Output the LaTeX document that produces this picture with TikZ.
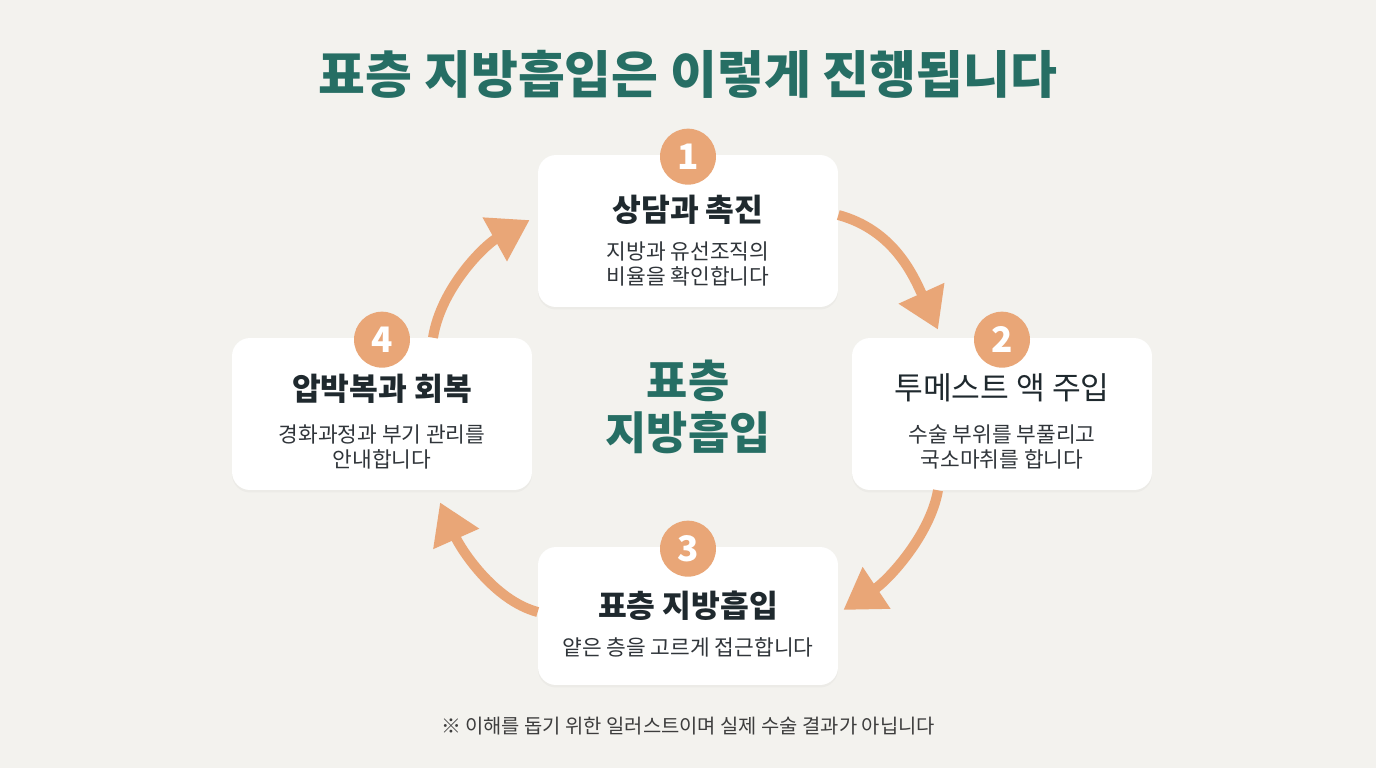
\documentclass[tikz,border=0pt]{standalone}
\usepackage{fontspec}
\setmainfont{Noto Sans CJK KR}
\usetikzlibrary{arrows.meta,positioning,calc,shadows}

\definecolor{bgcream}{HTML}{F3F2EE}
\definecolor{tealtxt}{HTML}{266E64}
\definecolor{peach}{HTML}{E9A677}
\definecolor{inkdark}{HTML}{1F292E}
\definecolor{inkgray}{HTML}{30353A}
\definecolor{notegray}{HTML}{3D3D3D}

\tikzset{
  stepcard/.style={fill=white, rounded corners=0.36cm, minimum width=6cm,
    minimum height=3.04cm, drop shadow={opacity=0.06, shadow xshift=0cm, shadow yshift=-0.05cm}},
  numdot/.style={circle, fill=peach, text=white, minimum size=1.12cm, inner sep=0pt,
    font=\fontsize{20}{20}\selectfont\bfseries},
  cardtitle/.style={text=inkdark, font=\fontsize{17.8}{20}\selectfont\bfseries},
  cardtext/.style={text=inkgray, align=center, font=\fontsize{12.2}{14}\selectfont},
  flowarrow/.style={draw=peach, line width=0.2cm, -{Triangle[length=0.8cm,width=0.95cm]}},
}

\begin{document}
\begin{tikzpicture}[x=0.02cm, y=-0.02cm]
    \fill[bgcream] (0,0) rectangle (1376,768);
    \useasboundingbox (0,0) rectangle (1376,768);

    % Heading
    \node[text=tealtxt, font=\fontsize{29}{32}\selectfont\bfseries] (head) at (688,74)
        {표층 지방흡입은 이렇게 진행됩니다};

    % Cards
    \node[stepcard] (b1) at (688,231) {};
    \node[stepcard] (b2) at (1002,414) {};
    \node[stepcard, minimum height=2.76cm] (b3) at (688,616) {};
    \node[stepcard] (b4) at (382,414) {};

    % Step numbers
    \node[numdot] (n1) at ($(b1.north)+(0,2)$) {1};
    \node[numdot] (n2) at ($(b2.north)+(0,2)$) {2};
    \node[numdot] (n3) at ($(b3.north)+(0,2)$) {3};
    \node[numdot] (n4) at ($(b4.north)+(0,2)$) {4};

    % Card texts
    \node[cardtitle] (t1) at (688,210) {상담과 촉진};
    \node[cardtext] (s1) at (688,264) {지방과 유선조직의\\비율을 확인합니다};

    \node[cardtitle, font=\fontsize{17.8}{20}\selectfont] (t2) at (1002,388) {투메스트 액 주입};
    \node[cardtext] (s2) at (1002,447) {수술 부위를 부풀리고\\국소마취를 합니다};

    \node[cardtitle] (t3) at (688,606) {표층 지방흡입};
    \node[cardtext] (s3) at (688,647) {얕은 층을 고르게 접근합니다};

    \node[cardtitle] (t4) at (382,389) {압박복과 회복};
    \node[cardtext] (s4) at (382,447) {경화과정과 부기 관리를\\안내합니다};

    % Centre label
    \node[text=tealtxt, align=center, font=\fontsize{25.5}{29.5}\selectfont\bfseries] (mid) at (688,407)
        {표층\\지방흡입};

    % Cycle arrows
    \draw[flowarrow] ($(b1.east)+(0,-16)$) .. controls +(55,15) and +(-25,-55) .. ($(b2.north)+(-64,-8)$);
    \draw[flowarrow] ($(b2.south)+(-64,0)$) .. controls +(-8,45) and +(45,-30) .. ($(b3.east)+(5,-6)$);
    \draw[flowarrow] ($(b3.west)+(0,-4)$) .. controls +(-45,-12) and +(20,45) .. ($(b4.south)+(58,12)$);
    \draw[flowarrow] ($(b4.north)+(51,0)$) .. controls +(8,-50) and +(-45,25) .. ($(b1.west)+(-8,-11)$);

    % Footnote
    \node[text=notegray, font=\fontsize{11.3}{13}\selectfont] (note) at (688,726)
        {※ 이해를 돕기 위한 일러스트이며 실제 수술 결과가 아닙니다};
\end{tikzpicture}
\end{document}
